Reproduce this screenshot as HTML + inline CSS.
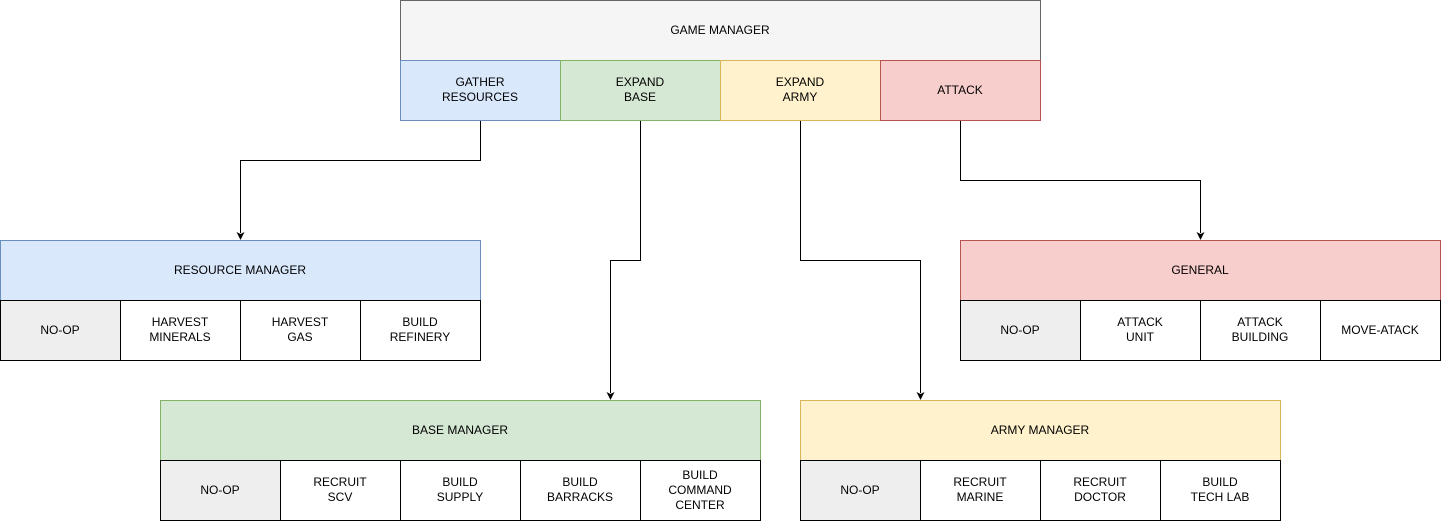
<!DOCTYPE html>
<html><head><meta charset="utf-8"><style>
body{margin:0;background:#fff}
svg text{font-family:"Liberation Sans",Helvetica,Arial,sans-serif;font-size:12px;text-anchor:middle;fill:#000}
</style></head><body>
<svg width="1441" height="521" viewBox="0 0 1441 521" xmlns="http://www.w3.org/2000/svg">
<defs><marker id="a" markerWidth="8" markerHeight="8" refX="4" refY="7" orient="auto" markerUnits="userSpaceOnUse"><path d="M0,0 L4,8 L8,0 L4,2 Z" transform="rotate(-90 4 4)" fill="#000"/></marker></defs>
<g fill="none" stroke="#000" stroke-width="1">
<path d="M480.5,120 V160.5 H240.5 V233"/>
<path d="M640.5,120 V260.5 H610.5 V393"/>
<path d="M800.5,120 V260.5 H920.5 V393"/>
<path d="M960.5,120 V180.5 H1200.5 V233"/>
</g>
<g fill="#000">
<path d="M236.5,232 L240.5,240 L244.5,232 L240.5,234 Z"/>
<path d="M606.5,392 L610.5,400 L614.5,392 L610.5,394 Z"/>
<path d="M916.5,392 L920.5,400 L924.5,392 L920.5,394 Z"/>
<path d="M1196.5,232 L1200.5,240 L1204.5,232 L1200.5,234 Z"/>
</g>
<!-- game manager -->
<rect x="400.5" y="0.5" width="640" height="60" fill="#f5f5f5" stroke="#666"/>
<text x="720" y="34" fill="#333">GAME MANAGER</text>
<rect x="400.5" y="60.5" width="160" height="60" fill="#dae8fc" stroke="#6c8ebf"/>
<text x="480" y="86">GATHER</text><text x="480" y="101">RESOURCES</text>
<rect x="560.5" y="60.5" width="160" height="60" fill="#d5e8d4" stroke="#82b366"/>
<text x="640" y="86">EXPAND</text><text x="640" y="101">BASE</text>
<rect x="720.5" y="60.5" width="160" height="60" fill="#fff2cc" stroke="#d6b656"/>
<text x="800" y="86">EXPAND</text><text x="800" y="101">ARMY</text>
<rect x="880.5" y="60.5" width="160" height="60" fill="#f8cecc" stroke="#b85450"/>
<text x="960" y="94">ATTACK</text>
<!-- resource manager -->
<rect x="0.5" y="240.5" width="480" height="60" fill="#dae8fc" stroke="#6c8ebf"/>
<text x="240" y="274">RESOURCE MANAGER</text>
<g stroke="#000">
<rect x="0.5" y="300.5" width="120" height="60" fill="#eeeeee"/>
<rect x="120.5" y="300.5" width="120" height="60" fill="#fff"/>
<rect x="240.5" y="300.5" width="120" height="60" fill="#fff"/>
<rect x="360.5" y="300.5" width="120" height="60" fill="#fff"/>
</g>
<text x="60" y="334">NO-OP</text>
<text x="180" y="326">HARVEST</text><text x="180" y="341">MINERALS</text>
<text x="300" y="326">HARVEST</text><text x="300" y="341">GAS</text>
<text x="420" y="326">BUILD</text><text x="420" y="341">REFINERY</text>
<!-- general -->
<rect x="960.5" y="240.5" width="480" height="60" fill="#f8cecc" stroke="#b85450"/>
<text x="1200" y="274">GENERAL</text>
<g stroke="#000">
<rect x="960.5" y="300.5" width="120" height="60" fill="#eeeeee"/>
<rect x="1080.5" y="300.5" width="120" height="60" fill="#fff"/>
<rect x="1200.5" y="300.5" width="120" height="60" fill="#fff"/>
<rect x="1320.5" y="300.5" width="120" height="60" fill="#fff"/>
</g>
<text x="1020" y="334">NO-OP</text>
<text x="1140" y="326">ATTACK</text><text x="1140" y="341">UNIT</text>
<text x="1260" y="326">ATTACK</text><text x="1260" y="341">BUILDING</text>
<text x="1380" y="334">MOVE-ATACK</text>
<!-- base manager -->
<rect x="160.5" y="400.5" width="600" height="60" fill="#d5e8d4" stroke="#82b366"/>
<text x="460" y="434">BASE MANAGER</text>
<g stroke="#000">
<rect x="160.5" y="460.5" width="120" height="60" fill="#eeeeee"/>
<rect x="280.5" y="460.5" width="120" height="60" fill="#fff"/>
<rect x="400.5" y="460.5" width="120" height="60" fill="#fff"/>
<rect x="520.5" y="460.5" width="120" height="60" fill="#fff"/>
<rect x="640.5" y="460.5" width="120" height="60" fill="#fff"/>
</g>
<text x="220" y="494">NO-OP</text>
<text x="340" y="486">RECRUIT</text><text x="340" y="501">SCV</text>
<text x="460" y="486">BUILD</text><text x="460" y="501">SUPPLY</text>
<text x="580" y="486">BUILD</text><text x="580" y="501">BARRACKS</text>
<text x="700" y="479">BUILD</text><text x="700" y="494">COMMAND</text><text x="700" y="509">CENTER</text>
<!-- army manager -->
<rect x="800.5" y="400.5" width="480" height="60" fill="#fff2cc" stroke="#d6b656"/>
<text x="1040" y="434">ARMY MANAGER</text>
<g stroke="#000">
<rect x="800.5" y="460.5" width="120" height="60" fill="#eeeeee"/>
<rect x="920.5" y="460.5" width="120" height="60" fill="#fff"/>
<rect x="1040.5" y="460.5" width="120" height="60" fill="#fff"/>
<rect x="1160.5" y="460.5" width="120" height="60" fill="#fff"/>
</g>
<text x="860" y="494">NO-OP</text>
<text x="980" y="486">RECRUIT</text><text x="980" y="501">MARINE</text>
<text x="1100" y="486">RECRUIT</text><text x="1100" y="501">DOCTOR</text>
<text x="1220" y="486">BUILD</text><text x="1220" y="501">TECH LAB</text>
</svg>
</body></html>
